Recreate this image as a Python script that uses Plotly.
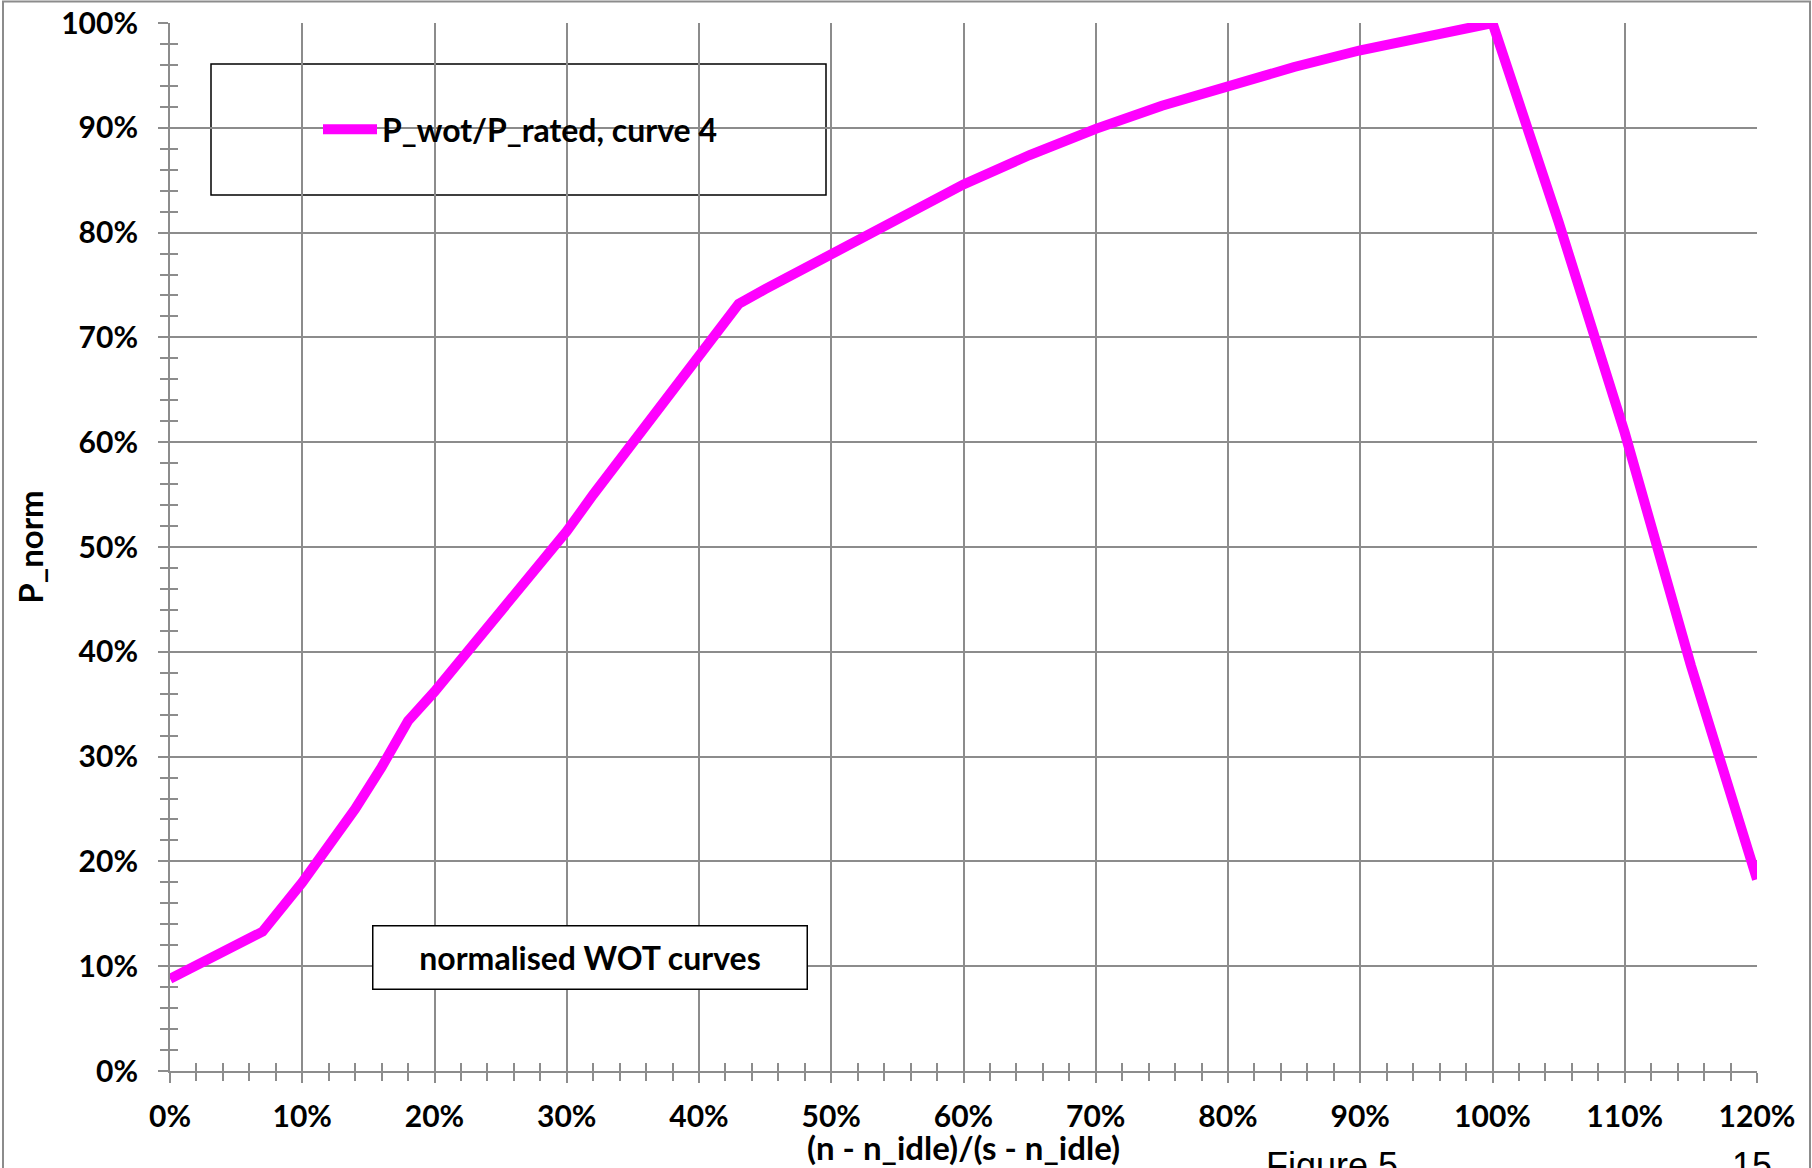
import plotly.graph_objects as go

# Normalised full-load (WOT) power curve, both axes in percent
speed_norm = [0, 7, 10, 12, 14, 16, 18, 20, 25, 30, 32, 35, 40, 43,
              45, 50, 55, 60, 65, 70, 75, 80, 85, 90, 95, 100,
              105, 110, 115, 120]
p_norm = [8.8, 13.3, 18.0, 21.4, 25.0, 29.0, 33.4, 36.2, 43.9, 51.5, 55.0, 59.9, 68.2, 73.2,
          74.6, 77.9, 81.4, 84.6, 87.4, 89.9, 92.1, 94.0, 95.8, 97.4, 98.7, 100.0,
          81.0, 60.9, 38.7, 18.3]

series_name = "P_wot/P_rated, curve 4"
x_title = "(n - n_idle)/(s - n_idle)"
y_title = "P_norm"
note_text = "normalised WOT curves"
footer_left = "Figure 5"
footer_right = "15"

W, H = 1812, 1168
ML, MR, MT, MB = 170, 55, 23, 97
PW, PH = W - ML - MR, H - MT - MB

GRID = "#8c8c8c"
FONT = "Lato"


def px_x(p):
    """pixel column -> paper x"""
    return (p - ML) / PW


def px_y(p):
    """pixel row -> paper y"""
    return (H - MB - p) / PH


fig = go.Figure()

fig.add_trace(go.Scatter(
    x=speed_norm, y=p_norm, mode="lines", name=series_name,
    line=dict(color="#ff00ff", width=10),
    hoverinfo="skip",
))
# helper trace so the overlay axes (inner half of the crossing ticks) are drawn
fig.add_trace(go.Scatter(x=[None], y=[None], xaxis="x2", yaxis="y2",
                         showlegend=False, hoverinfo="skip"))

tick_font = dict(family=FONT, size=30, color="black", weight="bold")
label_font = dict(family=FONT, size=32, color="black", weight="bold")

common = dict(
    tickcolor=GRID, tickwidth=2, gridcolor=GRID, gridwidth=2,
    linecolor=GRID, linewidth=2, zeroline=False,
)

fig.update_layout(
    width=W, height=H,
    margin=dict(l=ML, r=MR, t=MT, b=MB, autoexpand=False),
    paper_bgcolor="white", plot_bgcolor="white",
    font=dict(family=FONT, color="black"),
    xaxis=dict(
        range=[0, 120], dtick=10, tick0=0, ticksuffix="%",
        ticks="outside", ticklen=10, showline=True, showgrid=True,
        minor=dict(dtick=2, ticks="outside", ticklen=8, tickcolor=GRID, tickwidth=2, showgrid=False),
        tickfont=tick_font, ticklabelstandoff=8,
        automargin=False, **common,
    ),
    yaxis=dict(
        range=[0, 100], dtick=10, tick0=0, ticksuffix="%",
        ticks="outside", ticklen=10, showline=True, showgrid=True,
        minor=dict(dtick=2, ticks="outside", ticklen=8, tickcolor=GRID, tickwidth=2, showgrid=False),
        tickfont=tick_font, ticklabelstandoff=14,
        title=dict(text=y_title, font=dict(family=FONT, size=33, weight="bold"), standoff=8),
        automargin=False, **common,
    ),
    xaxis2=dict(
        overlaying="x", anchor="y2", range=[0, 120], dtick=10, tick0=0,
        ticks="inside", ticklen=10, showticklabels=False, showgrid=False,
        showline=False, zeroline=False, tickcolor=GRID, tickwidth=2,
        minor=dict(dtick=2, ticks="inside", ticklen=8, tickcolor=GRID, tickwidth=2, showgrid=False),
    ),
    yaxis2=dict(
        overlaying="y", anchor="x2", range=[0, 100], dtick=10, tick0=0,
        ticks="inside", ticklen=10, showticklabels=False, showgrid=False,
        showline=False, zeroline=False, tickcolor=GRID, tickwidth=2,
        minor=dict(dtick=2, ticks="inside", ticklen=8, tickcolor=GRID, tickwidth=2, showgrid=False),
    ),
    showlegend=True,
    legend=dict(
        x=px_x(318), y=px_y(129.5), xanchor="left", yanchor="middle",
        bgcolor="rgba(0,0,0,0)", borderwidth=0,
        font=label_font, itemwidth=54,
    ),
)

# legend frame and outer chart frame
fig.add_shape(type="rect", xref="paper", yref="paper",
              x0=px_x(211), x1=px_x(826), y0=px_y(195), y1=px_y(64),
              line=dict(color="black", width=1.5), fillcolor="white", layer="between")
fig.add_shape(type="rect", xref="paper", yref="paper",
              x0=px_x(3), x1=px_x(1810), y0=px_y(1220), y1=px_y(1.5),
              line=dict(color=GRID, width=2), fillcolor="rgba(0,0,0,0)", layer="below")

# x-axis title, set just under the tick labels
fig.add_annotation(
    xref="paper", yref="paper", x=0.5, y=px_y(1147),
    xanchor="center", yanchor="middle", text=x_title, showarrow=False,
    font=dict(family=FONT, size=33, color="black", weight="bold"),
)

# boxed chart note
fig.add_annotation(
    xref="paper", yref="paper", x=px_x(589.5), y=px_y(957),
    xanchor="center", yanchor="middle",
    text=note_text, showarrow=False, font=label_font,
    bgcolor="white", bordercolor="black", borderwidth=1.5, borderpad=0,
    width=433, height=62, align="center", valign="middle",
)

# page footer text below the chart
footer_font = dict(family="Liberation Sans", size=36, color="black")
fig.add_annotation(xref="paper", yref="paper", x=px_x(1264), y=px_y(1143),
                   xanchor="left", yanchor="top", text=footer_left,
                   showarrow=False, font=footer_font)
fig.add_annotation(xref="paper", yref="paper", x=px_x(1730), y=px_y(1143),
                   xanchor="left", yanchor="top", text=footer_right,
                   showarrow=False, font=footer_font)

fig.write_html("out.html")
